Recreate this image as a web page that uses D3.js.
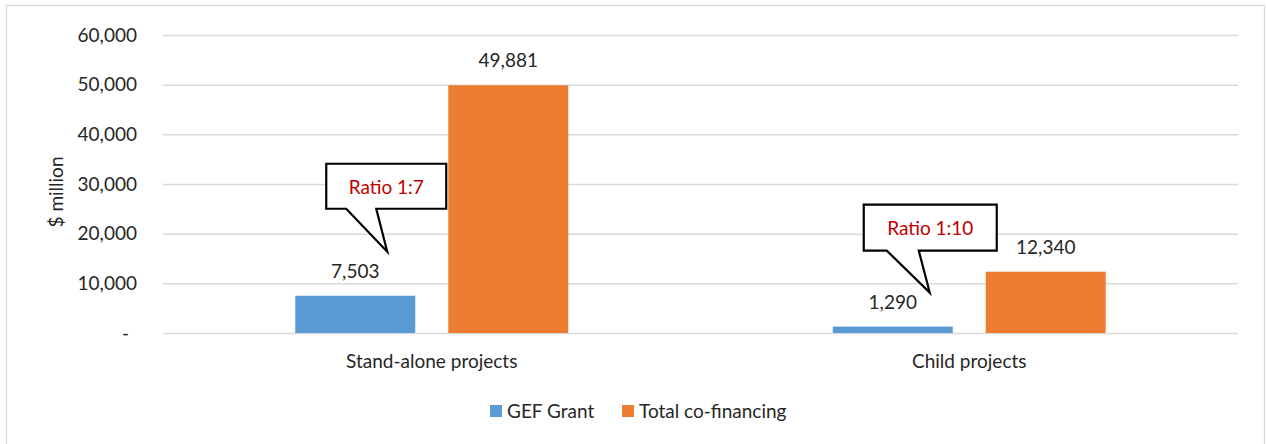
<!DOCTYPE html>
<html>
<head>
<meta charset="utf-8">
<script src="https://cdn.jsdelivr.net/npm/d3@7"></script>
<style>
  html, body { margin: 0; padding: 0; background: #fff; overflow: hidden; }
  svg { display: block; font-family: Lato, "Open Sans", sans-serif; }
</style>
</head>
<body>
<svg id="chart" width="1266" height="444"></svg>
<script>
const categories = ["Stand-alone projects", "Child projects"];
const seriesNames = ["GEF Grant", "Total co-financing"];
const gefGrant = [7503, 1290];
const coFinancing = [49881, 12340];
const ratioLabels = ["Ratio 1:7", "Ratio 1:10"];
const yTicks = [0, 10000, 20000, 30000, 40000, 50000, 60000];
const titleText = "Figure 4: GEF grant and co-financing of stand-alone projects and child projects";

const colors = ["#5b9bd5", "#ed7d31"];
const textColor = "#262626";
const FS = 19;

const svg = d3.select("#chart");
const W = 1266, H = 444;
const margin = { left: 163, right: 28, top: 35, bottom: 111 };
const x0 = d3.scaleBand().domain(categories).range([margin.left, W - margin.right]).paddingInner(0).paddingOuter(0);
const x1 = d3.scaleBand().domain(seriesNames).range([0, x0.bandwidth()]).paddingInner(0.2157).paddingOuter(0.8644);
const y = d3.scaleLinear().domain([0, 60000]).range([H - margin.bottom, margin.top]);

// title (mostly above the visible frame, as in the reference)
svg.append("text").attr("x", 633).attr("y", -3).attr("text-anchor", "middle")
  .attr("font-weight", "bold").attr("font-size", 19).attr("fill", "#000").text(titleText);

// chart frame
svg.append("rect").attr("x", 6.5).attr("y", 5.5).attr("width", 1258).attr("height", 460)
  .attr("fill", "none").attr("stroke", "#d9d9d9").attr("stroke-width", 1.3);

// gridlines + y axis labels
const yAxis = d3.axisLeft(y).tickValues(yTicks)
  .tickSize(-(W - margin.left - margin.right))
  .tickPadding(26)
  .tickFormat(d => d === 0 ? "-" : d3.format(",")(d));
const gy = svg.append("g").attr("transform", `translate(${margin.left},0)`).call(yAxis);
gy.select(".domain").remove();
gy.selectAll(".tick line").attr("stroke", "#d9d9d9").attr("stroke-width", 1.5);
gy.selectAll(".tick text").attr("fill", textColor).attr("font-size", FS)
  .attr("font-family", "Lato, sans-serif")
  .attr("dx", d => d === 0 ? -8 : 0);

// y axis title
svg.append("text")
  .attr("transform", `translate(63,${(y(0) + y(60000)) / 2 + 8}) rotate(-90)`)
  .attr("text-anchor", "middle").attr("font-size", FS).attr("fill", textColor)
  .text("$ million");

// bars
const data = categories.map((c, i) => ({ cat: c, vals: [gefGrant[i], coFinancing[i]] }));
const groups = svg.selectAll("g.cat").data(data).join("g").attr("class", "cat")
  .attr("transform", d => `translate(${x0(d.cat)},0)`);
groups.selectAll("rect").data(d => d.vals.map((v, j) => ({ v, s: seriesNames[j], j })))
  .join("rect")
  .attr("x", d => x1(d.s)).attr("width", x1.bandwidth())
  .attr("y", d => y(d.v)).attr("height", d => y(0) - y(d.v))
  .attr("fill", d => colors[d.j]);
groups.selectAll("text.val").data(d => d.vals.map((v, j) => ({ v, s: seriesNames[j] })))
  .join("text").attr("class", "val")
  .attr("x", d => x1(d.s) + x1.bandwidth() / 2).attr("y", d => y(d.v) - 18)
  .attr("text-anchor", "middle").attr("font-size", FS).attr("fill", textColor)
  .text(d => d3.format(",")(d.v));

// x category labels
svg.selectAll("text.cat").data(categories).join("text").attr("class", "cat")
  .attr("x", d => x0(d) + x0.bandwidth() / 2).attr("y", y(0) + 35)
  .attr("text-anchor", "middle").attr("font-size", FS).attr("fill", textColor)
  .text(d => d);

// callouts (anchored to the GEF Grant bars)
const callouts = [
  { label: ratioLabels[0], left: -29, top: -132, w: 120, h: 45, b1: -9, b2: 21, tx: 32, ty: -44, textDy: 30 },
  { label: ratioLabels[1], left: -29, top: -122, w: 133, h: 46, b1: -6, b2: 26, tx: 37, ty: -34, textDy: 30 }
];
callouts.forEach((c, i) => {
  const cx = x0(categories[i]) + x1(seriesNames[0]) + x1.bandwidth() / 2;
  const barTop = y(gefGrant[i]);
  const L = cx + c.left, T = barTop + c.top, R = L + c.w, B = T + c.h;
  const path = [[L, T], [R, T], [R, B], [cx + c.b2, B], [cx + c.tx, barTop + c.ty], [cx + c.b1, B], [L, B]];
  svg.append("path").attr("d", d3.line()(path) + "Z")
    .attr("fill", "#fff").attr("stroke", "#000").attr("stroke-width", 2.2).attr("stroke-linejoin", "miter");
  svg.append("text").attr("x", L + c.w / 2).attr("y", T + c.textDy)
    .attr("text-anchor", "middle").attr("font-size", FS).attr("fill", "#c00000")
    .text(c.label);
});

// legend
const legend = svg.append("g").attr("transform", "translate(490,405)");
const litems = [{ n: seriesNames[0], x: 0 }, { n: seriesNames[1], x: 132 }];
litems.forEach((d, i) => {
  legend.append("rect").attr("x", d.x).attr("y", 0).attr("width", 12).attr("height", 12).attr("fill", colors[i]);
  legend.append("text").attr("x", d.x + 17).attr("y", 13).attr("font-size", FS).attr("fill", textColor).text(d.n);
});
</script>
</body>
</html>
